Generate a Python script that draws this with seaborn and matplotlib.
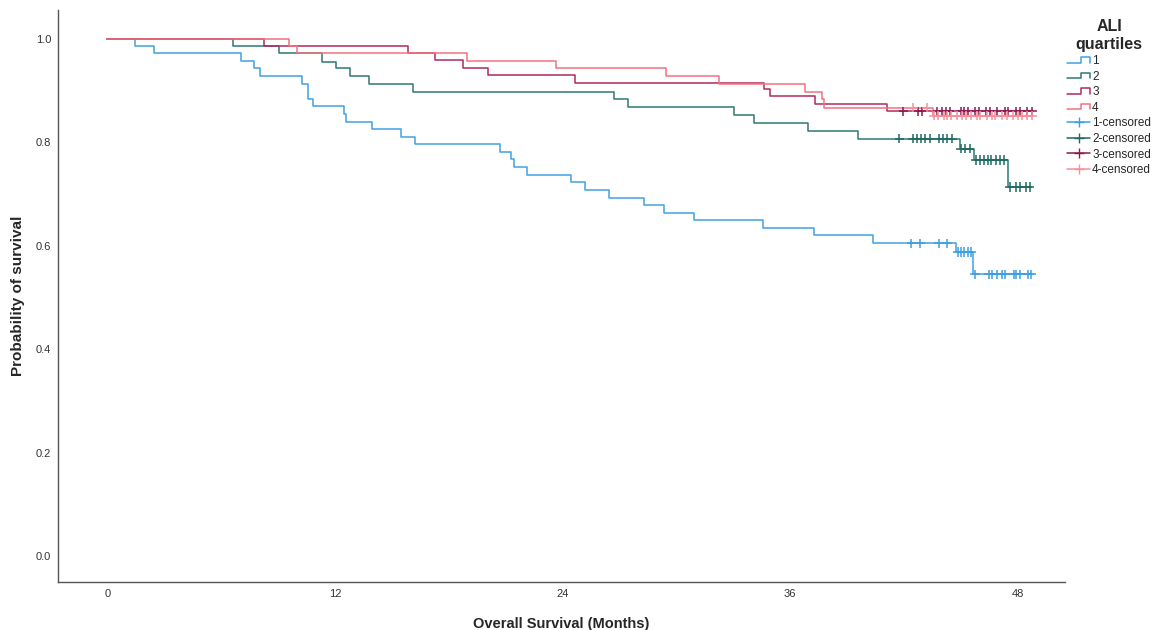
import numpy as np
import pandas as pd
import matplotlib
matplotlib.use("Agg")
import matplotlib.pyplot as plt
from matplotlib.lines import Line2D
from matplotlib.legend_handler import HandlerBase
import seaborn as sns

# ---------------------------------------------------------
# Dati (mesi, sopravvivenza dopo ogni evento)
# ---------------------------------------------------------
times_1 = [0, 1.44, 2.48, 7.05, 7.74, 8.05, 10.28, 10.57, 10.83, 12.47, 12.59, 13.96, 15.5, 16.2,
           20.7, 21.3, 21.47, 22.15, 24.46, 25.17, 26.48, 28.3, 29.34, 30.96, 34.58, 37.29, 40.4,
           44.74, 45.66, 48.8]
surv_1 = [1.0, 0.987, 0.972, 0.958, 0.943, 0.928, 0.913, 0.884, 0.870, 0.854, 0.840, 0.825, 0.811,
          0.796, 0.781, 0.767, 0.752, 0.737, 0.723, 0.708, 0.693, 0.678, 0.664, 0.650, 0.634, 0.620,
          0.605, 0.588, 0.545, 0.545]
cens_1 = [42.4, 42.88, 43.86, 44.29, 44.84, 45.0, 45.17, 45.4, 45.55, 45.75, 46.49, 46.66, 46.89,
          47.19, 47.36, 47.8, 47.94, 48.12, 48.54, 48.72]

times_2 = [0, 6.63, 9.03, 11.32, 12.08, 12.82, 13.8, 16.1, 26.7, 27.44, 33.03, 34.09, 36.96, 39.56,
           44.94, 45.69, 47.49, 48.7]
surv_2 = [1.0, 0.987, 0.972, 0.956, 0.943, 0.928, 0.912, 0.897, 0.883, 0.868, 0.853, 0.838, 0.823,
          0.807, 0.788, 0.766, 0.714, 0.714]
cens_2 = [41.77, 42.46, 42.7, 42.93, 43.14, 43.37, 43.86, 44.07, 44.3, 44.55, 45.02, 45.25, 45.48,
          45.8, 46.0, 46.22, 46.43, 46.62, 46.84, 47.05, 47.27, 47.59, 47.89, 48.15, 48.42, 48.63]

times_3 = [0, 8.26, 15.84, 17.3, 18.74, 20.1, 24.65, 34.63, 34.97, 37.34, 41.12, 48.8]
surv_3 = [1.0, 0.987, 0.972, 0.959, 0.944, 0.930, 0.915, 0.903, 0.889, 0.874, 0.860, 0.860]
cens_3 = [41.97, 42.74, 42.97, 43.76, 43.99, 44.2, 44.41, 44.99, 45.16, 45.37, 45.74, 45.95, 46.36,
          46.53, 46.93, 47.31, 47.5, 47.89, 48.12, 48.51, 48.77]

times_4 = [0, 9.58, 10.0, 18.97, 23.68, 29.48, 32.26, 36.8, 37.7, 37.78, 43.53, 48.8]
surv_4 = [1.0, 0.987, 0.972, 0.957, 0.943, 0.928, 0.913, 0.897, 0.883, 0.867, 0.852, 0.852]
cens_4 = [42.5, 43.2, 43.58, 43.79, 44.11, 44.29, 44.5, 44.81, 45.08, 45.3, 45.52, 45.87, 46.04,
          46.4, 46.66, 46.83, 47.19, 47.42, 47.77, 48.01, 48.25, 48.51, 48.77]

groups = ["1", "2", "3", "4"]
line_colors = {"1": "#3fa3e2", "2": "#2c7a72", "3": "#b0295f", "4": "#f2727d"}
cens_colors = {"1": "#3a9fe0", "2": "#1f6a63", "3": "#8c1a50", "4": "#f7909a"}

# ---------------------------------------------------------
# Costruzione dataframe
# ---------------------------------------------------------
curves = {"1": (times_1, surv_1, cens_1), "2": (times_2, surv_2, cens_2),
          "3": (times_3, surv_3, cens_3), "4": (times_4, surv_4, cens_4)}

rows, crows = [], []
for g, (t, s, c) in curves.items():
    for ti, si in zip(t, s):
        rows.append({"Time": ti, "Surv": si, "Group": g})
    t_arr = np.array(t)
    s_arr = np.array(s)
    for ci in c:
        idx = np.searchsorted(t_arr, ci, side="right") - 1
        crows.append({"Time": ci, "Surv": s_arr[idx], "Group": g})
df = pd.DataFrame(rows)
df_c = pd.DataFrame(crows)

# ---------------------------------------------------------
# Stile
# ---------------------------------------------------------
sns.set_theme(style="white")
plt.rcParams["font.family"] = ["Liberation Sans", "DejaVu Sans"]

fig = plt.figure(figsize=(11.58, 6.3), dpi=100)
ax = fig.add_axes([58 / 1158, 1 - 582 / 630, (1065 - 58) / 1158, (582 - 10) / 630])

sns.lineplot(data=df, x="Time", y="Surv", hue="Group", hue_order=groups, palette=line_colors,
             estimator=None, drawstyle="steps-post", linewidth=1.1, ax=ax, legend=False)
sns.scatterplot(data=df_c, x="Time", y="Surv", hue="Group", hue_order=groups, palette=cens_colors,
                marker="+", s=45, linewidth=1.1, ax=ax, legend=False, zorder=3)

ax.set_xlim(-2.6, 50.5)
ax.set_ylim(-0.05, 1.056)
ax.set_xticks([0, 12, 24, 36, 48])
ax.set_yticks([0.0, 0.2, 0.4, 0.6, 0.8, 1.0])
ax.set_yticklabels(["0.0", "0.2", "0.4", "0.6", "0.8", "1.0"])
ax.tick_params(axis="both", length=0, labelsize=8, colors="#333333", pad=5)
sns.despine(ax=ax)
for sp in ["left", "bottom"]:
    ax.spines[sp].set_color("#555555")
    ax.spines[sp].set_linewidth(1.0)

ax.set_xlabel("Overall Survival (Months)", fontsize=10.5, fontweight="bold", labelpad=13)
ax.set_ylabel("Probability of survival", fontsize=11, fontweight="bold", labelpad=8)


# Legenda con simbolo a gradino
class HandlerStep(HandlerBase):
    def create_artists(self, legend, orig_handle, xdescent, ydescent, width, height, fontsize, trans):
        x0 = -xdescent
        x1 = x0 + width
        xm = x0 + 0.6 * width
        ylo = -ydescent + 0.2 * height
        yhi = -ydescent + 0.85 * height
        ln = Line2D([x0, xm, xm, x1, x1], [ylo, ylo, yhi, yhi, ylo],
                    color=orig_handle.get_color(), lw=orig_handle.get_linewidth())
        ln.set_transform(trans)
        return [ln]


step_handles = [Line2D([], [], color=line_colors[g], lw=1.1) for g in groups]
cens_handles = [Line2D([], [], color=cens_colors[g], lw=1.1, marker="+", markersize=7) for g in groups]
labels = groups + [f"{g}-censored" for g in groups]

leg = fig.legend(step_handles + cens_handles, labels,
                 handler_map={h: HandlerStep() for h in step_handles},
                 loc="upper left", bbox_to_anchor=(1065 / 1158, 1 - 17 / 630),
                 frameon=False, fontsize=8.5, title="ALI\nquartiles",
                 title_fontproperties={"weight": "bold", "size": 11.5},
                 handlelength=1.9, handletextpad=0.2, labelspacing=0.3, numpoints=1,
                 borderpad=0.2, borderaxespad=0.0)
leg.get_title().set_multialignment("center")

fig.savefig("out.png", dpi=100)
